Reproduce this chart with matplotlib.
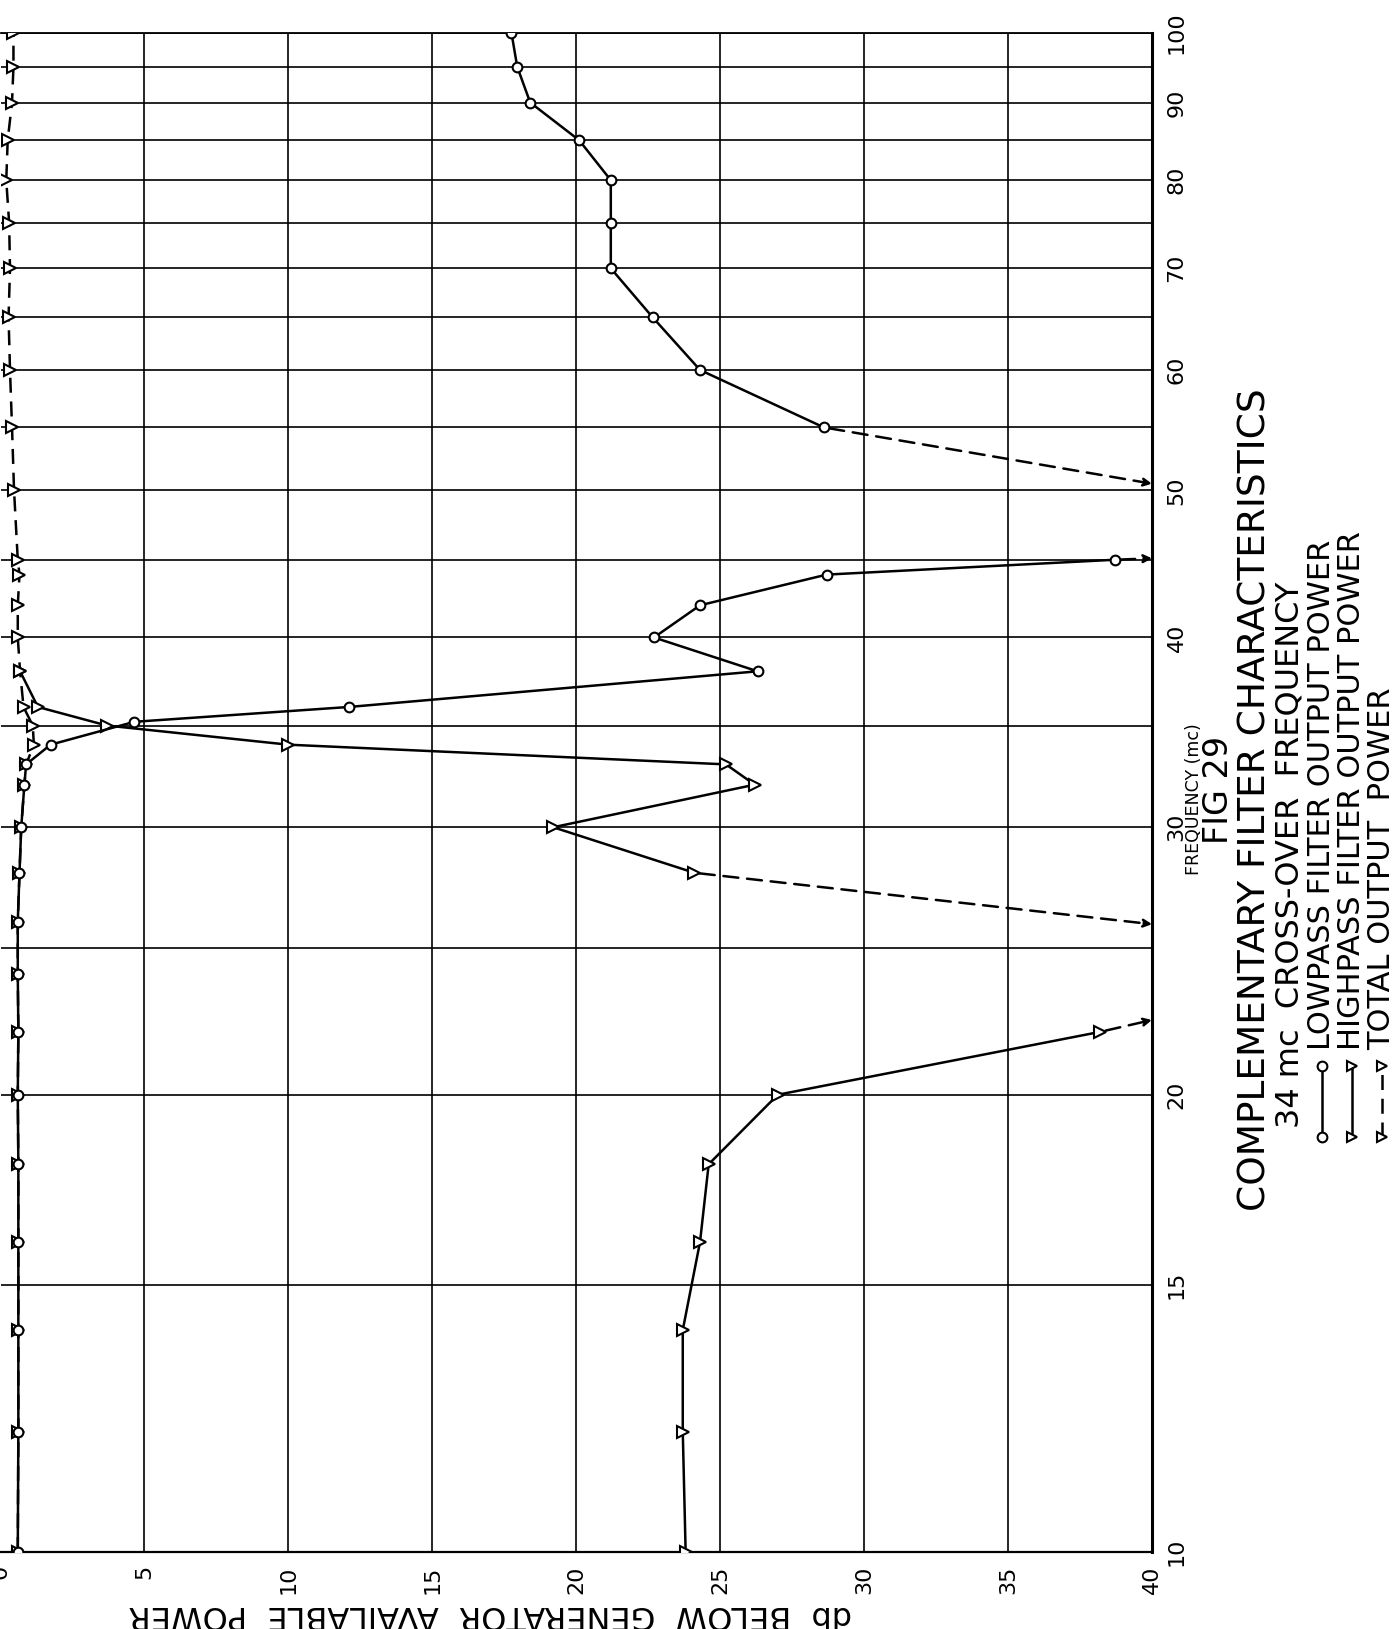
import matplotlib
matplotlib.use('Agg')
import matplotlib.pyplot as plt
from matplotlib.lines import Line2D
from matplotlib.ticker import NullLocator

# frequency in mc, level in db below generator available power
# lowpass filter output (circles), below and above the off-scale gap
lp_freq_lo = [10, 12, 14, 16, 18, 20, 22, 24, 26, 28, 30, 32, 33, 34, 35.2, 36, 38, 40, 42, 44, 45]
lp_db_lo = [0.6, 0.62, 0.62, 0.62, 0.62, 0.6, 0.62, 0.6, 0.6, 0.66, 0.72, 0.83, 0.89, 1.74, 4.65, 12.1, 26.3, 22.7, 24.3, 28.7, 38.7]
lp_freq_hi = [55, 60, 65, 70, 75, 80, 85, 90, 95, 100]
lp_db_hi = [28.6, 24.3, 22.65, 21.2, 21.2, 21.2, 20.1, 18.4, 17.95, 17.75]
lp_arrow_freq = [45.1, 50.5]  # where the curve leaves the 40 db edge

# highpass filter output (triangles)
hp_freq_lo = [10, 12, 14, 16, 18, 20, 22]
hp_db_lo = [23.8, 23.7, 23.7, 24.3, 24.6, 27.0, 38.2]
hp_freq_hi = [28, 30, 32, 33, 34, 35, 36, 38]
hp_db_hi = [24.1, 19.2, 26.2, 25.2, 10.0, 3.7, 1.3, 0.68]
hp_arrow_freq = [22.4, 25.9]

# total output (triangles, dashed)
tot_freq = [10, 12, 14, 16, 18, 20, 22, 24, 26, 28, 30, 32, 33, 34, 35, 36, 38, 40, 42, 44, 45,
            50, 55, 60, 65, 70, 75, 80, 85, 90, 95, 100]
tot_db = [0.6, 0.62, 0.62, 0.62, 0.62, 0.6, 0.62, 0.6, 0.6, 0.66, 0.72, 0.83, 0.89, 1.16, 1.12, 0.8, 0.68, 0.6, 0.6, 0.66, 0.6,
          0.47, 0.4, 0.33, 0.28, 0.33, 0.3, 0.2, 0.25, 0.4, 0.45, 0.45]

freq_grid = [10, 15, 20, 25, 30, 35, 40, 45, 50, 55, 60, 65, 70, 75, 80, 85, 90, 95, 100]
freq_labels = ['10', '15', '20', '', '30', '', '40', '', '50', '', '60', '', '70', '', '80', '', '90', '', '100']
db_ticks = [0, 5, 10, 15, 20, 25, 30, 35, 40]
db_labels = ['0', '5', '10', '15', '20', '25', '30', '35', '40']

W, H = 1398, 1629
def fx(px):
    return px / W
def fy(py):
    return 1 - py / H

plt.rcParams['font.family'] = ['DejaVu Sans']
fig = plt.figure(figsize=(W / 100, H / 100), dpi=100)
ax = fig.add_axes([fx(0.5), fy(1552), fx(1152) - fx(0.5), fy(33) - fy(1552)])

lw = 1.8
dash = (0, (6, 3.5))
mk = dict(mfc='white', mec='black', mew=1.5)

ax.plot(tot_db, tot_freq, color='black', lw=lw, ls=dash, marker='>', ms=8, zorder=3, **mk)
ax.plot(hp_db_lo, hp_freq_lo, color='black', lw=lw, marker='>', ms=8, zorder=4, **mk)
ax.plot(hp_db_hi, hp_freq_hi, color='black', lw=lw, marker='>', ms=8, zorder=4, **mk)
ax.plot(lp_db_lo, lp_freq_lo, color='black', lw=lw, marker='o', ms=7, zorder=5, **mk)
ax.plot(lp_db_hi, lp_freq_hi, color='black', lw=lw, marker='o', ms=7, zorder=5, **mk)

# dashed runs to the 40 db edge where the curves go off scale
starts = [(lp_db_lo[-1], lp_freq_lo[-1]), (lp_db_hi[0], lp_freq_hi[0]),
          (hp_db_lo[-1], hp_freq_lo[-1]), (hp_db_hi[0], hp_freq_hi[0])]
ends = lp_arrow_freq + hp_arrow_freq
for (d0, f0), f1 in zip(starts, ends):
    ax.annotate('', xy=(40, f1), xytext=(d0, f0),
                arrowprops=dict(arrowstyle='-|>', color='black', lw=lw, ls=dash,
                                shrinkA=4, shrinkB=0, mutation_scale=12), zorder=2)

ax.set_xlim(0, 40)
ax.set_yscale('log')
ax.set_ylim(10, 100)
ax.set_xticks(db_ticks)
ax.set_xticklabels(db_labels)
ax.set_yticks(freq_grid)
ax.set_yticklabels(freq_labels)
ax.yaxis.set_minor_locator(NullLocator())
ax.grid(True, color='black', lw=1.2)
ax.xaxis.get_gridlines()[0].set_visible(False)

ax.tick_params(axis='x', bottom=False, labelsize=16, labelrotation=90, pad=6)
ax.tick_params(axis='y', which='both', left=False, right=False, labelleft=False,
               labelright=True, labelsize=16, labelrotation=90, pad=7)
for t in ax.get_yticklabels():
    t.set_va('center')

ax.spines['left'].set_visible(False)
ax.spines['right'].set_linewidth(2.2)
ax.spines['top'].set_linewidth(1.3)
ax.spines['bottom'].set_linewidth(1.6)

# titles, written sideways like the original sheet
fig.text(fx(1194), fy(799), 'FREQUENCY (mc)', rotation=90, ha='center', va='center', fontsize=12.5)
fig.text(fx(1218), fy(790), 'FIG 29', rotation=90, ha='center', va='center', fontsize=24)
fig.text(fx(1255), fy(800), 'COMPLEMENTARY FILTER CHARACTERISTICS', rotation=90,
         ha='center', va='center', fontsize=27)
fig.text(fx(1290), fy(855), '34 mc  CROSS-OVER  FREQUENCY', rotation=90,
         ha='center', va='center', fontsize=23)
fig.text(fx(490), fy(1615), 'db  BELOW  GENERATOR  AVAILABLE  POWER', rotation=180,
         ha='center', va='center', fontsize=23)

# hand-drawn style key
key_names = ['LOWPASS FILTER OUTPUT POWER', 'HIGHPASS FILTER OUTPUT POWER', 'TOTAL OUTPUT  POWER']
key_x = [1322, 1352, 1382]
key_marker = ['o', '>', '>']
key_ls = ['-', '-', dash]
for name, x, m, ls in zip(key_names, key_x, key_marker, key_ls):
    fig.add_artist(Line2D([fx(x), fx(x)], [fy(1137), fy(1066)], transform=fig.transFigure,
                          color='black', lw=lw, ls=ls, marker=m, ms=7, **mk))
    fig.text(fx(x), fy(1050), name, rotation=90, rotation_mode='anchor',
             ha='left', va='center', fontsize=22)

fig.savefig('out.png', dpi=100)
